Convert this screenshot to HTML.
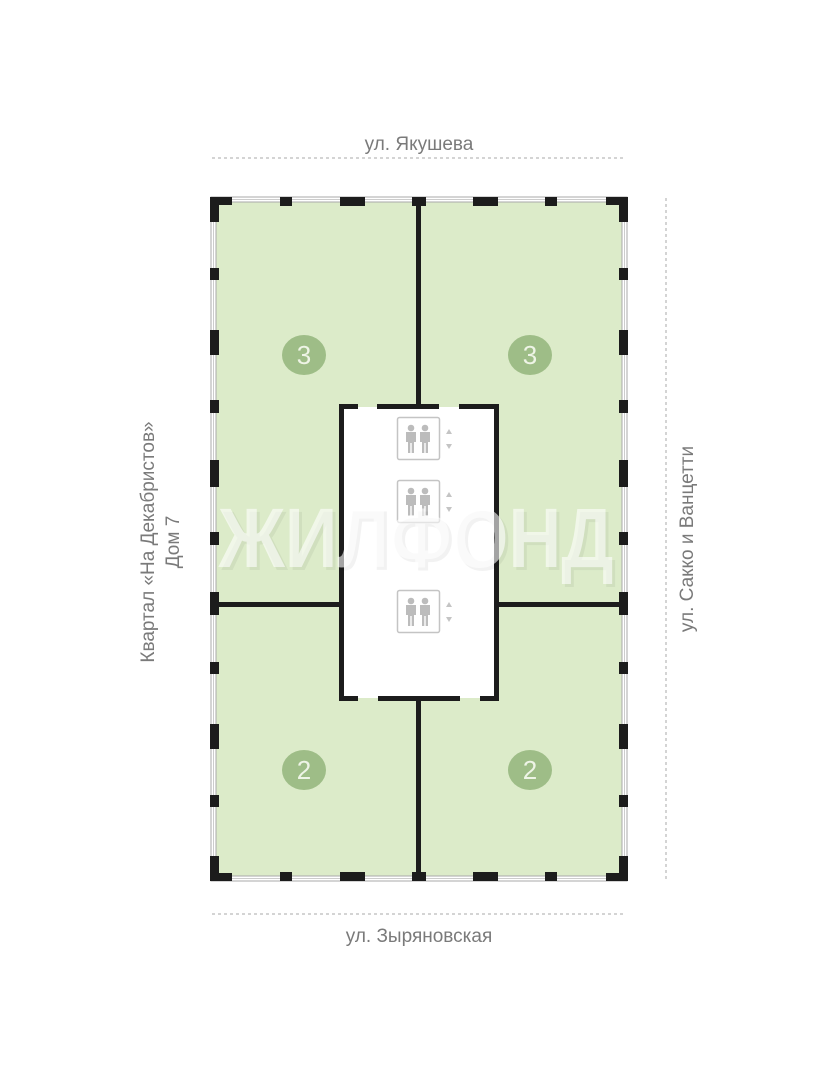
<!DOCTYPE html>
<html><head><meta charset="utf-8"><style>
html,body{margin:0;padding:0;background:#fff;}
body{width:830px;height:1080px;overflow:hidden;}
svg{display:block;}
text{font-family:"Liberation Sans",sans-serif;}
</style></head><body>
<svg width="830" height="1080" viewBox="0 0 830 1080" xmlns="http://www.w3.org/2000/svg">
<!-- labels -->
<text x="419" y="150" font-size="19" fill="#7a7a7a" text-anchor="middle">ул. Якушева</text>
<line x1="212" y1="158" x2="626" y2="158" stroke="#aaa" stroke-width="1" stroke-dasharray="3,3"/>
<line x1="212" y1="914" x2="626" y2="914" stroke="#aaa" stroke-width="1" stroke-dasharray="3,3"/>
<text x="419" y="942" font-size="19" fill="#7a7a7a" text-anchor="middle">ул. Зыряновская</text>
<line x1="666" y1="198" x2="666" y2="880" stroke="#aaa" stroke-width="1" stroke-dasharray="3,3"/>
<text transform="translate(693,539) rotate(-90)" font-size="19" fill="#7a7a7a" text-anchor="middle">ул. Сакко и Ванцетти</text>
<text transform="translate(154,542) rotate(-90)" font-size="19" fill="#7a7a7a" text-anchor="middle">Квартал «На Декабристов»</text>
<text transform="translate(179,542) rotate(-90)" font-size="19" fill="#7a7a7a" text-anchor="middle">Дом 7</text>

<!-- floor -->
<rect x="216" y="202" width="406" height="674" fill="#dcebc9"/>
<rect x="342" y="407" width="154" height="291" fill="#fff"/>

<!-- window frames -->
<g fill="none" stroke="#aaa" stroke-width="1">
<rect x="211" y="197" width="416" height="684"/>
<rect x="216" y="202" width="406" height="674"/>
</g>
<g fill="none" stroke="#ccc" stroke-width="1">
<rect x="213.5" y="199.5" width="411" height="679"/>
</g>

<!-- pillars -->
<g fill="#1c1c1c">
<!-- corners -->
<path d="M210 197h22v8h-13v17h-9z"/>
<path d="M628 197h-22v8h13v17h9z"/>
<path d="M210 881h-0v-25h9v17h13v8z"/>
<path d="M628 881v-25h-9v17h-13v8z"/>
<!-- top -->
<rect x="280" y="197" width="12" height="9"/>
<rect x="340" y="197" width="25" height="9"/>
<rect x="412" y="197" width="14" height="9"/>
<rect x="473" y="197" width="25" height="9"/>
<rect x="545" y="197" width="12" height="9"/>
<!-- bottom -->
<rect x="280" y="872" width="12" height="9"/>
<rect x="340" y="872" width="25" height="9"/>
<rect x="412" y="872" width="14" height="9"/>
<rect x="473" y="872" width="25" height="9"/>
<rect x="545" y="872" width="12" height="9"/>
<!-- left -->
<rect x="210" y="268" width="9" height="12"/>
<rect x="210" y="330" width="9" height="25"/>
<rect x="210" y="400" width="9" height="13"/>
<rect x="210" y="460" width="9" height="27"/>
<rect x="210" y="532" width="9" height="13"/>
<rect x="210" y="592" width="9" height="23"/>
<rect x="210" y="662" width="9" height="12"/>
<rect x="210" y="724" width="9" height="25"/>
<rect x="210" y="795" width="9" height="12"/>
<!-- right -->
<rect x="619" y="268" width="9" height="12"/>
<rect x="619" y="330" width="9" height="25"/>
<rect x="619" y="400" width="9" height="13"/>
<rect x="619" y="460" width="9" height="27"/>
<rect x="619" y="532" width="9" height="13"/>
<rect x="619" y="592" width="9" height="23"/>
<rect x="619" y="662" width="9" height="12"/>
<rect x="619" y="724" width="9" height="25"/>
<rect x="619" y="795" width="9" height="12"/>
</g>

<!-- interior walls -->
<g fill="#1c1c1c">
<rect x="416" y="200" width="5" height="208"/>
<rect x="416" y="697" width="5" height="180"/>
<rect x="215" y="602" width="127" height="5"/>
<rect x="496" y="602" width="126" height="5"/>
<!-- core -->
<rect x="339" y="404" width="5" height="297"/>
<rect x="494" y="404" width="5" height="297"/>
<rect x="339" y="404" width="19" height="5"/>
<rect x="377" y="404" width="62" height="5"/>
<rect x="459" y="404" width="40" height="5"/>
<rect x="339" y="696" width="19" height="5"/>
<rect x="378" y="696" width="82" height="5"/>
<rect x="480" y="696" width="19" height="5"/>
</g>

<!-- circles -->
<g>
<ellipse cx="304" cy="355" rx="22" ry="20" fill="#9ebd87"/>
<ellipse cx="530" cy="355" rx="22" ry="20" fill="#9ebd87"/>
<ellipse cx="304" cy="770" rx="22" ry="20" fill="#9ebd87"/>
<ellipse cx="530" cy="770" rx="22" ry="20" fill="#9ebd87"/>
</g>
<g font-size="26" fill="#eef4e6" text-anchor="middle">
<text x="304" y="364">3</text>
<text x="530" y="364">3</text>
<text x="304" y="779">2</text>
<text x="530" y="779">2</text>
</g>

<!-- elevators -->
<defs>
<g id="lift">
<rect x="0.5" y="0.5" width="42" height="42" rx="2" fill="none" stroke="#c4c4c4" stroke-width="1.5"/>
<g fill="#bcbcbc">
<circle cx="14" cy="11" r="3.3"/>
<path d="M9 15h10v10h-2v11h-2.3v-10h-1.4v10h-2.3v-11h-2z"/>
<circle cx="28" cy="11" r="3.3"/>
<path d="M23 15h10v10h-2v11h-2.3v-10h-1.4v10h-2.3v-11h-2z"/>
</g>
<path d="M49 17l3-5 3 5z M49 27l3 5 3-5z" fill="#c4c4c4"/>
</g>
</defs>
<use href="#lift" x="397" y="417"/>
<use href="#lift" x="397" y="480"/>
<use href="#lift" x="397" y="590"/>

<!-- watermark -->
<text x="416" y="567" font-size="84" font-weight="bold" fill="#000" fill-opacity="0.05" text-anchor="middle" transform="translate(3,3)" textLength="395" lengthAdjust="spacingAndGlyphs">ЖИЛФОНД</text>
<text x="416" y="567" font-size="84" font-weight="bold" fill="#fff" fill-opacity="0.6" text-anchor="middle" textLength="395" lengthAdjust="spacingAndGlyphs">ЖИЛФОНД</text>
</svg>
</body></html>
